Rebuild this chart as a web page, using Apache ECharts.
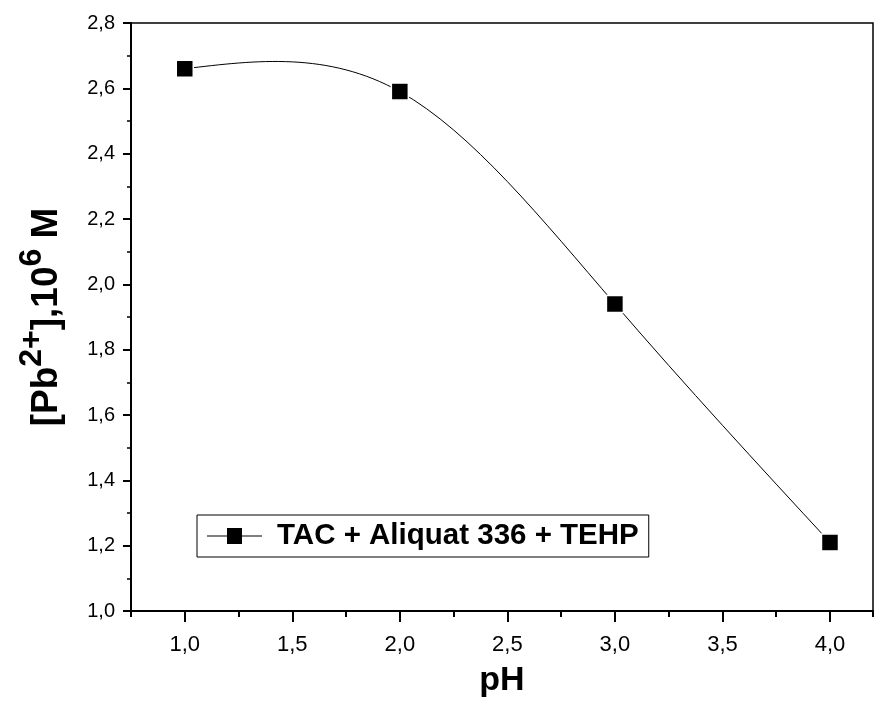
<!DOCTYPE html>
<html>
<head>
<meta charset="utf-8">
<script src="https://cdn.jsdelivr.net/npm/echarts@6/dist/echarts.min.js"></script>
<style>html,body{margin:0;padding:0;background:#fff}#c{width:875px;height:711px}</style>
</head>
<body>
<div id="c"></div>
<script>
const seriesName = 'TAC + Aliquat 336 + TEHP';
const phValues = [1.0, 2.0, 3.0, 4.0];
const pbValues = [2.66, 2.59, 1.94, 1.21];
const xTickValues = [1.0, 1.5, 2.0, 2.5, 3.0, 3.5, 4.0];
const xTitle = 'pH';

const fmt = v => Number(v).toFixed(1).replace('.', ',');
const font = 'Arial, "Liberation Sans", sans-serif';

// natural cubic spline slopes at the data points (used to draw the connecting curve as bezier segments)
function splineSlopes(xs, ys) {
  const n = xs.length;
  const h = [];
  for (let i = 0; i < n - 1; i++) h.push(xs[i + 1] - xs[i]);
  const M = new Array(n).fill(0);
  if (n > 2) {
    const a = [], b = [], c = [], d = [];
    for (let i = 1; i < n - 1; i++) {
      a.push(h[i - 1]); b.push(2 * (h[i - 1] + h[i])); c.push(h[i]);
      d.push(6 * ((ys[i + 1] - ys[i]) / h[i] - (ys[i] - ys[i - 1]) / h[i - 1]));
    }
    const m = b.length;
    for (let i = 1; i < m; i++) {
      const w = a[i] / b[i - 1];
      b[i] -= w * c[i - 1]; d[i] -= w * d[i - 1];
    }
    const sol = new Array(m);
    sol[m - 1] = d[m - 1] / b[m - 1];
    for (let i = m - 2; i >= 0; i--) sol[i] = (d[i] - c[i] * sol[i + 1]) / b[i];
    for (let i = 0; i < m; i++) M[i + 1] = sol[i];
  }
  const s = [];
  for (let i = 0; i < n - 1; i++) s.push((ys[i + 1] - ys[i]) / h[i] - h[i] * (2 * M[i] + M[i + 1]) / 6);
  s.push((ys[n - 1] - ys[n - 2]) / h[n - 2] + h[n - 2] * (M[n - 2] + 2 * M[n - 1]) / 6);
  return s;
}
const slopes = splineSlopes(phValues, pbValues);

const chart = echarts.init(document.getElementById('c'), null, {renderer: 'canvas'});
const iconPath = 'path://M0,7.5H20V0H35V7.5H55V8.6H35V16H20V8.6H0Z';

chart.setOption({
  animation: false,
  backgroundColor: '#fff',
  grid: {left: 131, right: 2, top: 23, bottom: 100, show: true, borderColor: '#000', borderWidth: 1.5, backgroundColor: 'transparent'},
  legend: {
    show: true, left: 197, top: 515,
    borderColor: '#000', borderWidth: 1, borderRadius: 0,
    padding: [6, 10, 6, 10],
    itemWidth: 55, itemHeight: 16,
    textStyle: {fontFamily: font, fontWeight: 'bold', fontSize: 29.5, color: '#000', padding: [0, 0, 0, 10]},
    data: [{name: seriesName, icon: iconPath, itemStyle: {color: '#000', borderWidth: 0}}]
  },
  xAxis: [{
    type: 'value', min: 0.75, max: 4.2, interval: 0.25,
    name: xTitle, nameLocation: 'middle', nameGap: 53,
    nameTextStyle: {fontFamily: font, fontWeight: 'bold', fontSize: 34, color: '#000'},
    axisLine: {show: true, onZero: false, lineStyle: {color: '#000', width: 2}},
    axisTick: {show: true, length: 6, lineStyle: {color: '#000', width: 2}},
    axisLabel: {show: true, customValues: xTickValues, formatter: fmt, margin: 23,
      fontFamily: '"Liberation Sans Narrow", "Arial Narrow", Arial, sans-serif', fontSize: 22, color: '#000'},
    splitLine: {show: false}
  }, {
    type: 'value', min: 0.75, max: 4.2, position: 'bottom',
    axisLine: {show: false},
    axisTick: {show: true, customValues: xTickValues, length: 11, lineStyle: {color: '#000', width: 2}},
    axisLabel: {show: false},
    splitLine: {show: false}
  }],
  yAxis: {
    type: 'value', min: 1.0, max: 2.8, interval: 0.2,
    name: '{m|[Pb}{s|2+}{m|],10}{s|6}{m| M}',
    nameLocation: 'middle', nameGap: 66,
    nameTextStyle: {
      rich: {
        m: {fontFamily: font, fontWeight: 'bold', fontSize: 37, color: '#000', verticalAlign: 'bottom', lineHeight: 42},
        s: {fontFamily: font, fontWeight: 'bold', fontSize: 32, color: '#000', verticalAlign: 'bottom', padding: [0, 0, 17, 0], lineHeight: 42}
      }
    },
    axisLine: {show: true, onZero: false, lineStyle: {color: '#000', width: 2}},
    axisTick: {show: true, length: 8, lineStyle: {color: '#000', width: 2}},
    minorTick: {show: true, splitNumber: 2, length: 4, lineStyle: {color: '#000', width: 1.5}},
    axisLabel: {formatter: fmt, margin: 16, fontFamily: font, fontSize: 20, color: '#000'},
    splitLine: {show: false}
  },
  series: [{
    name: 'curve', type: 'custom', silent: true, clip: true, z: 1,
    data: phValues.slice(0, -1).map((x, i) => [x, pbValues[i]]),
    renderItem: function (params, api) {
      const i = params.dataIndex;
      const x0 = phValues[i], x1 = phValues[i + 1];
      const y0 = pbValues[i], y1 = pbValues[i + 1];
      const h = x1 - x0;
      const p0 = api.coord([x0, y0]);
      const c1 = api.coord([x0 + h / 3, y0 + slopes[i] * h / 3]);
      const c2 = api.coord([x1 - h / 3, y1 - slopes[i + 1] * h / 3]);
      const p1 = api.coord([x1, y1]);
      return {
        type: 'bezierCurve',
        shape: {x1: p0[0], y1: p0[1], cpx1: c1[0], cpy1: c1[1], cpx2: c2[0], cpy2: c2[1], x2: p1[0], y2: p1[1]},
        style: {stroke: '#000', lineWidth: 1, fill: null}
      };
    }
  }, {
    name: seriesName, type: 'scatter', z: 3,
    data: phValues.map((x, i) => [x, pbValues[i]]),
    symbol: 'rect', symbolSize: 17,
    itemStyle: {color: '#000', borderColor: '#fff', borderWidth: 1.5, opacity: 1}
  }]
});
</script>
</body>
</html>
